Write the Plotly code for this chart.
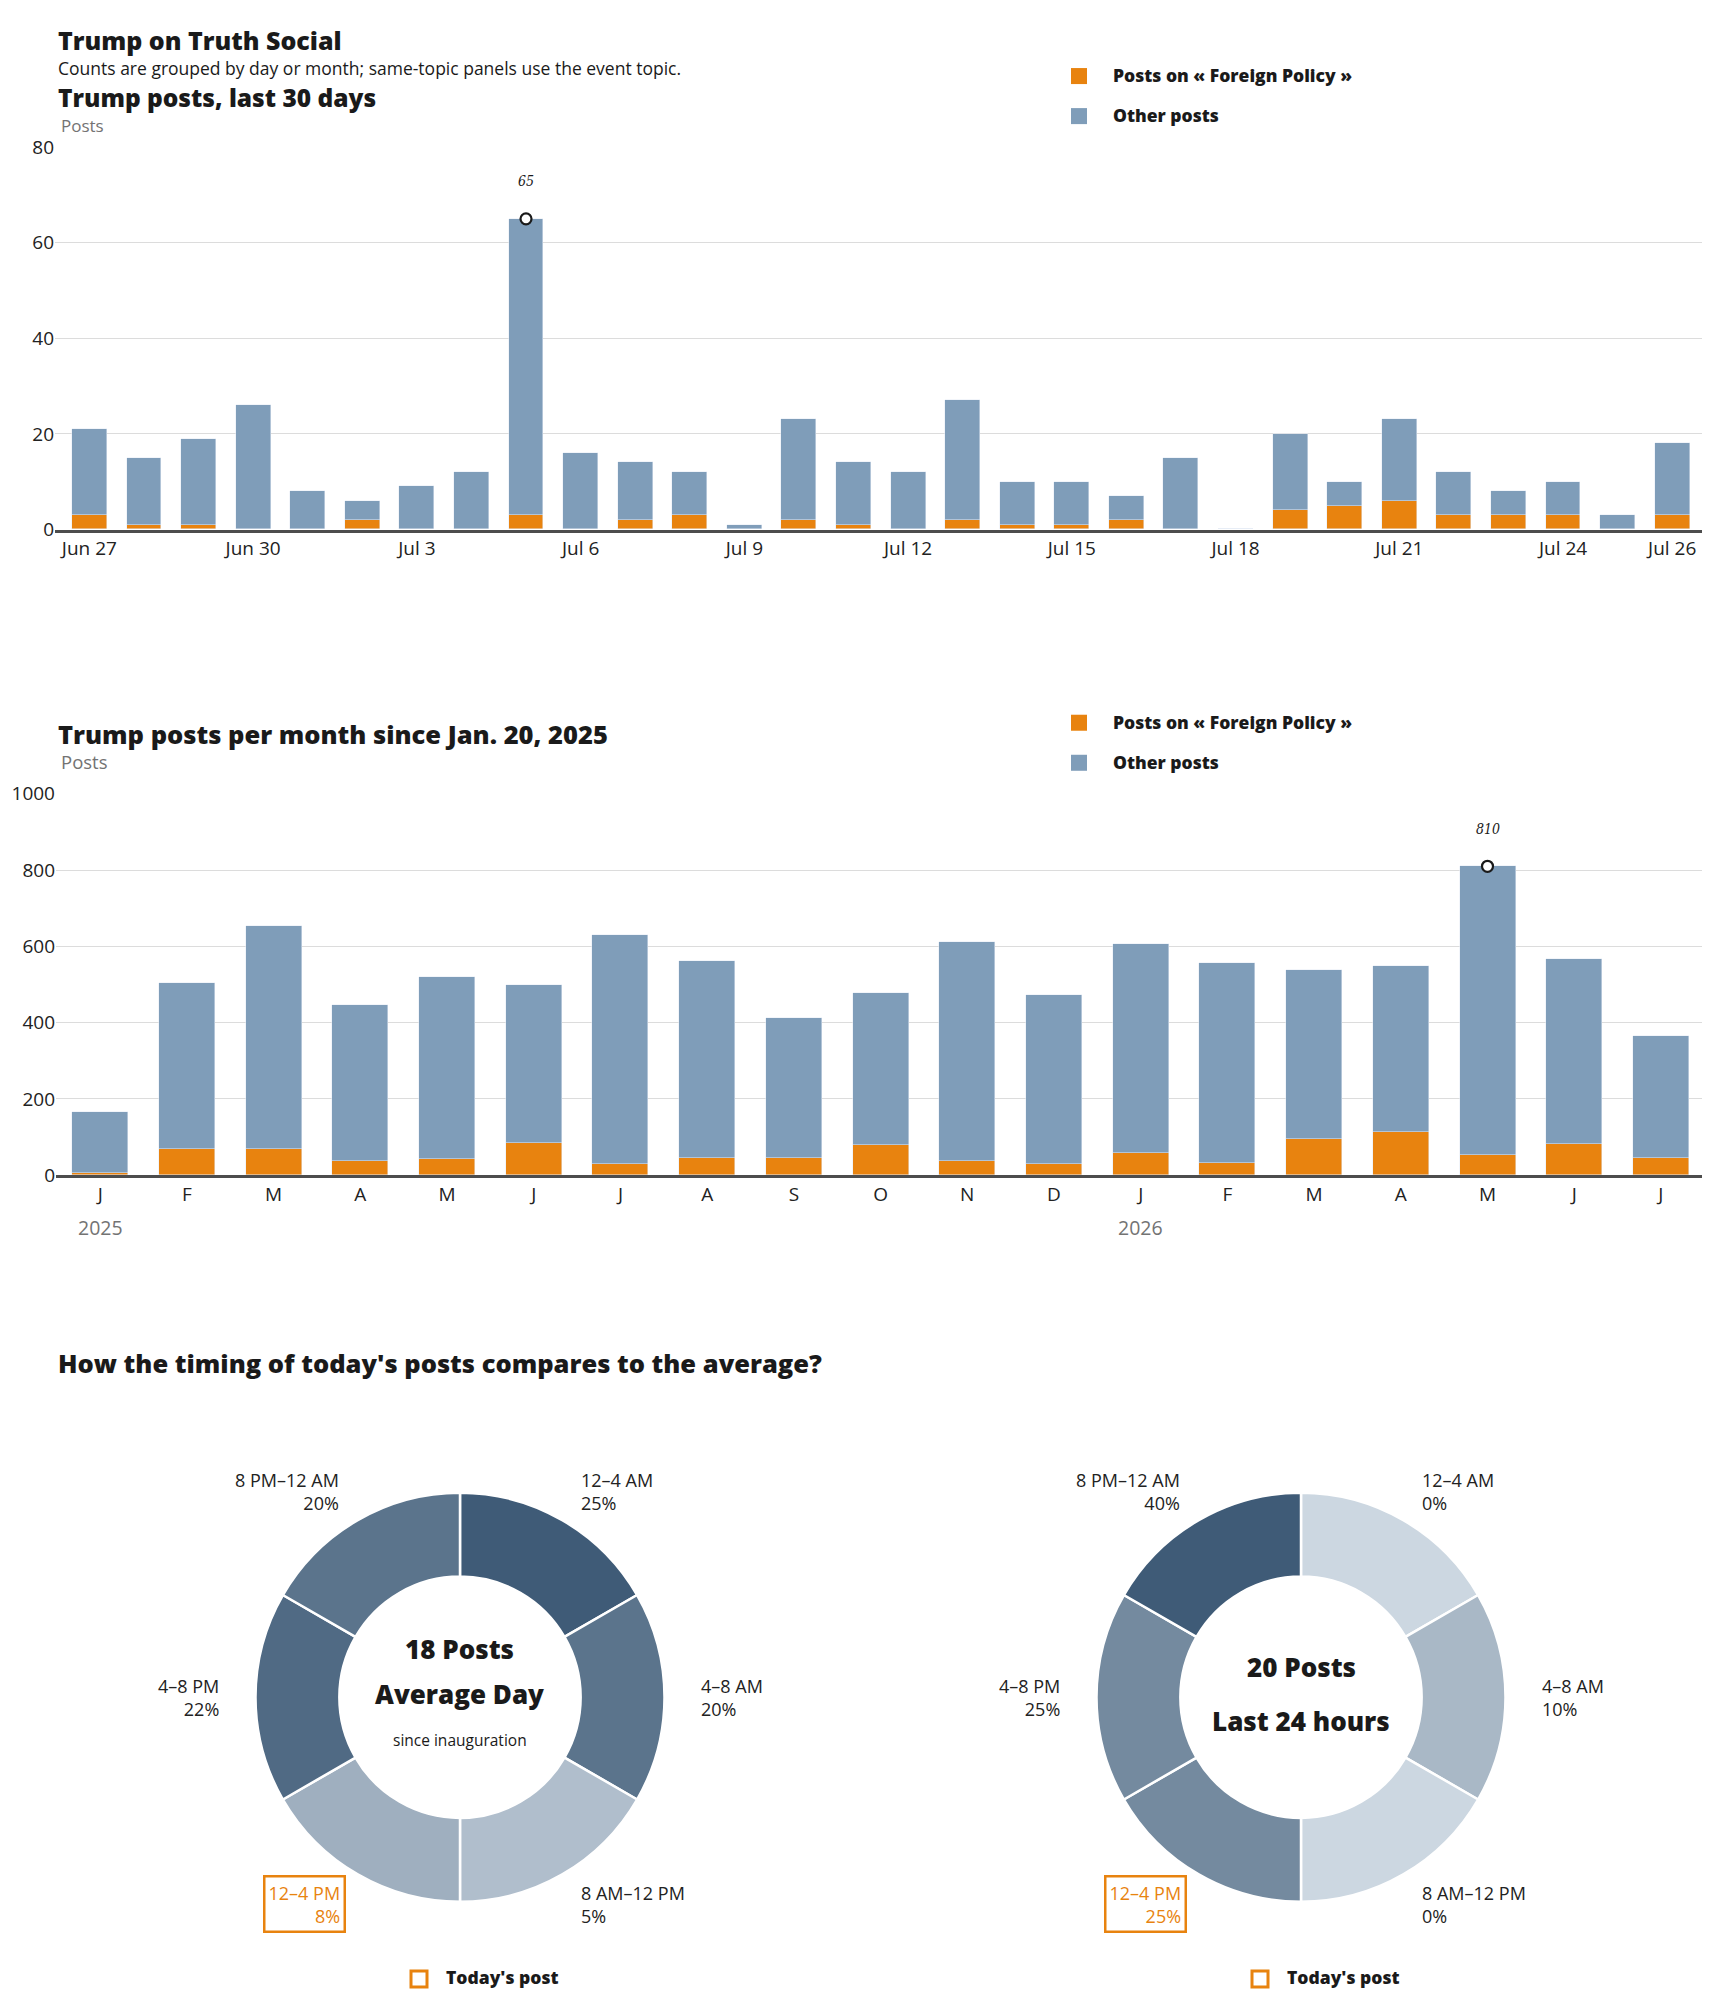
"""Trump on Truth Social: daily / monthly post counts and timing donuts."""

import pandas as pd
import plotly.graph_objects as go

# positions below are window pixels; the page draws the figure shifted by
# the body margin (and slightly squeezed vertically), so convert with these
OX, OY, SY = 8, 21, 0.986
W, H = 1702, 2005

# ---- data -------------------------------------------------------------
days = pd.date_range("2026-06-27", "2026-07-26", freq="D")
day_labels = [f"{d:%b} {d.day}" for d in days]
daily_total = [21, 15, 19, 26, 8, 6, 9, 12, 65, 16, 14, 12, 1, 23, 14,
               12, 27, 10, 10, 7, 15, 0, 20, 10, 23, 12, 8, 10, 3, 18]
daily_foreign = [3, 1, 1, 0, 0, 2, 0, 0, 3, 0, 2, 3, 0, 2, 1,
                 0, 2, 1, 1, 2, 0, 0, 4, 5, 6, 3, 3, 3, 0, 3]
daily_ticks = ["Jun 27", "Jun 30", "Jul 3", "Jul 6", "Jul 9", "Jul 12",
               "Jul 15", "Jul 18", "Jul 21", "Jul 24", "Jul 26"]

month_labels = ["J", "F", "M", "A", "M", "J", "J", "A", "S", "O", "N", "D",
                "J", "F", "M", "A", "M", "J", "J"]
month_years = {0: "2025", 12: "2026"}
monthly_total = [165, 504, 654, 447, 520, 499, 630, 562, 412, 477, 612, 473,
                 607, 556, 538, 549, 810, 568, 365]
monthly_foreign = [7, 69, 69, 39, 43, 86, 31, 45, 45, 79, 38, 30,
                   58, 32, 96, 113, 53, 83, 45]

slots = ["12–4 AM", "4–8 AM", "8 AM–12 PM", "12–4 PM", "4–8 PM", "8 PM–12 AM"]
slot_hours = [4, 4, 4, 4, 4, 4]
avg_share = [25, 20, 5, 8, 22, 20]
today_share = [0, 10, 0, 25, 25, 40]
today_slot = "12–4 PM"

# ---- style ------------------------------------------------------------
ORANGE = "#e8830f"
BLUE = "#7f9db9"
INK = "#1a1a1a"
GREY = "#737373"
HEAD = "Open Sans"
BODY = "Open Sans"
LIGHT, DARK = (204, 215, 225), (63, 91, 119)


def fx(x):
    """window pixel x -> paper x"""
    return (x - OX) / W


def fy(y):
    """window pixel y -> paper y"""
    return 1 - (y - OY) / SY / H


def shade(share, top):
    t = share / top if top else 0
    rgb = [round(lo + (hi - lo) * t) for lo, hi in zip(LIGHT, DARK)]
    return "rgb({},{},{})".format(*rgb)


fig = go.Figure()
annotations = []
shapes = []


def text(x, y, s, size=17, color=INK, bold=False, xanchor="left", **kw):
    ann = dict(x=fx(x), y=fy(y), xref="paper", yref="paper", text=s,
               showarrow=False, xanchor=xanchor, yanchor="middle",
               font=dict(family=HEAD if bold else BODY, size=size,
                         color=color, weight=800 if bold else 400))
    ann.update(kw)
    annotations.append(ann)


def legend(y0):
    for i, (name, col) in enumerate([("Posts on « Foreign Policy »", ORANGE),
                                     ("Other posts", BLUE)]):
        yc = y0 + i * 40
        shapes.append(dict(type="rect", xref="paper", yref="paper",
                           x0=fx(1071), x1=fx(1087), y0=fy(yc - 8),
                           y1=fy(yc + 8), fillcolor=col, line_width=0))
        text(1111, yc - 1, name, size=17.5, bold=True)


def peak(xref, yref, xv, yv):
    annotations.append(dict(
        x=xv, y=yv, xref=xref, yref=yref, yshift=37 / SY,
        text=f"<i>{yv}</i>", showarrow=False,
        font=dict(family="DejaVu Serif Condensed, serif", size=14,
                  color=INK)))


# ---- chart 1: last 30 days -------------------------------------------
x1 = list(range(len(day_labels)))
other1 = [t - f for t, f in zip(daily_total, daily_foreign)]
fig.add_bar(x=x1, y=daily_foreign, marker_color=ORANGE, width=0.64,
            xaxis="x", yaxis="y", showlegend=False,
            name="Posts on « Foreign Policy »", customdata=day_labels,
            hovertemplate="%{customdata}: %{y}<extra></extra>")
fig.add_bar(x=x1, y=other1, marker_color=BLUE, width=0.64,
            xaxis="x", yaxis="y", showlegend=False, name="Other posts",
            customdata=day_labels,
            hovertemplate="%{customdata}: %{y}<extra></extra>")
pk1 = daily_total.index(max(daily_total))
fig.add_scatter(x=[pk1], y=[daily_total[pk1]], mode="markers",
                marker=dict(size=11, color="white",
                            line=dict(color=INK, width=2.2)),
                xaxis="x", yaxis="y", showlegend=False, hoverinfo="skip",
                cliponaxis=False)
peak("x", "y", pk1, daily_total[pk1])

# ---- chart 2: per month -----------------------------------------------
x2 = list(range(len(month_labels)))
other2 = [t - f for t, f in zip(monthly_total, monthly_foreign)]
fig.add_bar(x=x2, y=monthly_foreign, marker_color=ORANGE, width=0.646,
            xaxis="x2", yaxis="y2", showlegend=False,
            name="Posts on « Foreign Policy »")
fig.add_bar(x=x2, y=other2, marker_color=BLUE, width=0.646,
            xaxis="x2", yaxis="y2", showlegend=False, name="Other posts")
pk2 = monthly_total.index(max(monthly_total))
fig.add_scatter(x=[pk2], y=[monthly_total[pk2]], mode="markers",
                marker=dict(size=11, color="white",
                            line=dict(color=INK, width=2.2)),
                xaxis="x2", yaxis="y2", showlegend=False, hoverinfo="skip",
                cliponaxis=False)
peak("x2", "y2", pk2, monthly_total[pk2])
for idx, yr in month_years.items():
    annotations.append(dict(x=idx, y=fy(1226), xref="x2", yref="paper",
                            text=yr, showarrow=False,
                            font=dict(family=BODY, size=19.5, color=GREY)))

# ---- donuts -----------------------------------------------------------
R = 204.5
CY = 1695.5
donuts = [
    (460, avg_share, ["18 Posts", "Average Day", "since inauguration"],
     [1647, 1692, 1738]),
    (1301, today_share, ["20 Posts", "Last 24 hours"], [1665, 1719]),
]
label_pos = [(119, -206, "left"), (239, 0, "left"), (119, 207, "left"),
             (-119, 207, "right"), (-239, 0, "right"), (-119, -206, "right")]

for cx, share, centre, centre_y in donuts:
    top = max(share)
    fig.add_pie(values=slot_hours, labels=slots, sort=False,
                direction="clockwise", rotation=0, hole=0.59,
                marker=dict(colors=[shade(s, top) for s in share],
                            line=dict(color="white", width=2.5)),
                textinfo="none", showlegend=False,
                customdata=share, hovertemplate="%{label}: %{customdata}%"
                                                "<extra></extra>",
                domain=dict(x=[fx(cx - R), fx(cx + R)],
                            y=[fy(CY + R), fy(CY - R)]))
    for (dx, dy, anchor), slot, s in zip(label_pos, slots, share):
        hot = slot == today_slot
        extra = dict(align=anchor)
        if hot:
            extra.update(bordercolor=ORANGE, borderwidth=2.5, borderpad=3)
        text(cx + dx + (5 if hot else 0), CY + dy, f"{slot}<br>{s}%",
             size=18, color=ORANGE if hot else "#222", xanchor=anchor,
             **extra)
    for line, yy in zip(centre, centre_y):
        big = "since" not in line
        text(cx, yy, line, size=26 if big else 15.5, bold=big,
             xanchor="center")
    # "Today's post" key
    shapes.append(dict(type="rect", xref="paper", yref="paper",
                       x0=fx(cx - 49), x1=fx(cx - 33), y0=fy(1985),
                       y1=fy(1969), line=dict(color=ORANGE, width=3),
                       fillcolor="white"))
    text(cx - 16, 1975, "Today's post", size=17.5, bold=True)

# ---- titles / legends -------------------------------------------------
# the window top is out of reach, so the header block is packed from the
# figure's top edge down
text(56, OY, "Trump on Truth Social", size=25, bold=True, yanchor="top")
text(56, 68, "Counts are grouped by day or month; same-topic panels use "
     "the event topic.", size=17.5)
text(56, 97, "Trump posts, last 30 days", size=24.5, bold=True)
text(59, 125, "Posts", size=17, color=GREY)
legend(76)

text(56, 733, "Trump posts per month since Jan. 20, 2025", size=25.5,
     bold=True)
text(59, 761, "Posts", size=18.5, color=GREY)
legend(722)

text(56, 1362, "How the timing of today's posts compares to the average?",
     size=25.5, bold=True)

axis_common = dict(showgrid=False, zeroline=False, ticks="", fixedrange=True,
                   showline=True, linecolor="#4d4d4d", linewidth=3,
                   tickfont=dict(family=BODY, size=19, color="#222"))
yaxis_common = dict(showgrid=True, gridcolor="#dcdcdc", gridwidth=1,
                    zeroline=False, ticks="", fixedrange=True,
                    tickfont=dict(family=BODY, size=19, color="#222"))

fig.update_layout(
    width=W, height=H, margin=dict(l=0, r=0, t=0, b=0),
    paper_bgcolor="white", plot_bgcolor="white", barmode="stack",
    bargap=0, font=dict(family=BODY, color=INK),
    xaxis=dict(axis_common, domain=[fx(55), fx(1706)],
               range=[-0.63, 29.62], tickmode="array",
               tickvals=[day_labels.index(t) for t in daily_ticks],
               ticktext=daily_ticks, anchor="y"),
    yaxis=dict(yaxis_common, domain=[fy(529), fy(147)], range=[0, 80],
               tickvals=[0, 20, 40, 60, 80], anchor="x"),
    xaxis2=dict(axis_common, domain=[fx(56), fx(1706)],
                range=[-0.51, 18.52], tickmode="array", tickvals=x2,
                ticktext=month_labels, anchor="y2"),
    yaxis2=dict(yaxis_common, domain=[fy(1174), fy(793)], range=[0, 1000],
                tickvals=[0, 200, 400, 600, 800, 1000], anchor="x2"),
    annotations=annotations, shapes=shapes,
)

fig.write_html("out.html")
